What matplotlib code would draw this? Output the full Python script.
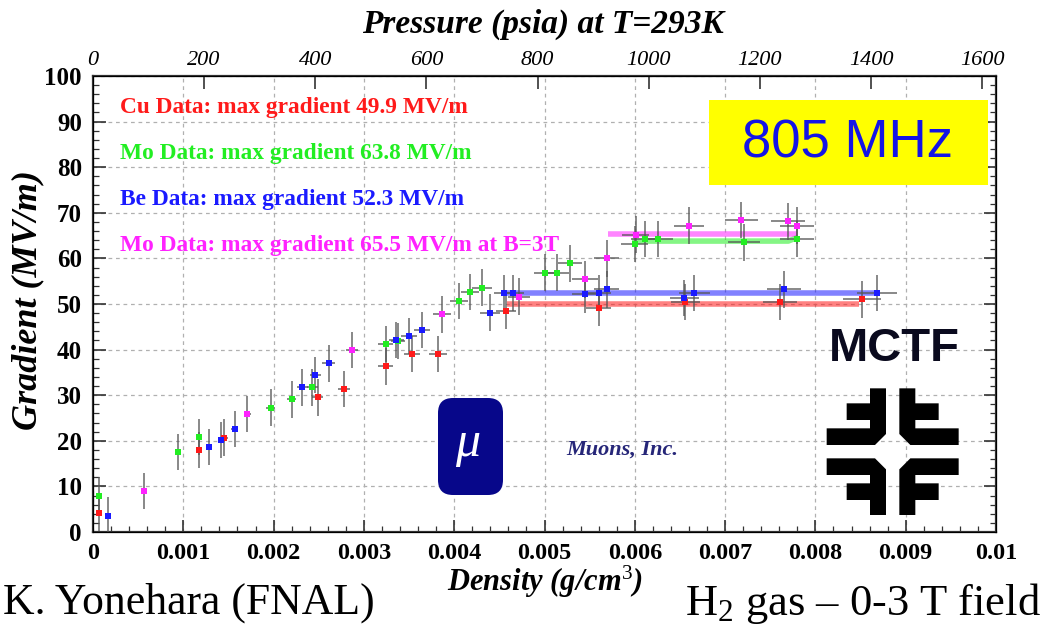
import numpy as np
import matplotlib
matplotlib.use("Agg")
import matplotlib.pyplot as plt
from matplotlib.patches import FancyBboxPatch, Polygon, Rectangle

# -----------------------------
# Data
# -----------------------------
cu_density = [0.00007, 0.00117, 0.00145, 0.00249, 0.00278, 0.00324, 0.00353, 0.00382,
              0.00457, 0.00560, 0.00656, 0.00761, 0.00852]
cu_gradient = [4.2, 18.0, 20.7, 29.5, 31.4, 36.3, 39.0, 39.0, 48.5, 49.1, 50.4, 50.4, 51.0]
cu_xerr = [0.00002, 0.00003, 0.00004, 0.00006, 0.00007, 0.00008, 0.00009, 0.0001,
           0.00011, 0.00014, 0.00016, 0.00019, 0.00021]

mo_density = [0.00007, 0.00094, 0.00117, 0.00197, 0.00220, 0.00243, 0.00324, 0.00338,
              0.00405, 0.00417, 0.00431, 0.00500, 0.00514, 0.00528, 0.00600, 0.00611,
              0.00626, 0.00721, 0.00780]
mo_gradient = [8.0, 17.5, 20.8, 27.3, 29.1, 31.7, 41.2, 41.9, 50.7, 52.6, 53.6, 56.9,
               56.9, 58.9, 63.2, 64.2, 64.2, 63.5, 64.2]
mo_xerr = [0.00002, 0.00002, 0.00003, 0.00005, 0.00005, 0.00006, 0.00008, 0.00008,
           0.0001, 0.0001, 0.00011, 0.00012, 0.00013, 0.00013, 0.00015, 0.00015,
           0.00016, 0.00018, 0.00019]

be_density = [0.000165, 0.00128, 0.00142, 0.00157, 0.00232, 0.00246, 0.00261, 0.00336,
              0.00350, 0.00364, 0.00440, 0.00455, 0.00465, 0.00545, 0.00560, 0.00569,
              0.00655, 0.00666, 0.00765, 0.00868]
be_gradient = [3.6, 18.6, 20.2, 22.6, 31.7, 34.4, 37.0, 42.1, 43.0, 44.3, 48.1, 52.4,
               52.4, 52.1, 52.4, 53.2, 51.3, 52.4, 53.2, 52.4]
be_xerr = [0.00002, 0.00003, 0.00004, 0.00004, 0.00006, 0.00006, 0.00007, 0.00008,
           0.00009, 0.00009, 0.00011, 0.00011, 0.00012, 0.00014, 0.00014, 0.00014,
           0.00016, 0.00017, 0.00019, 0.00022]

mo3t_density = [0.00056, 0.00171, 0.00287, 0.00387, 0.00472, 0.00545, 0.00569, 0.00601,
                0.00660, 0.00718, 0.00770, 0.00780]
mo3t_gradient = [9.0, 25.9, 39.9, 47.7, 51.6, 55.4, 60.0, 65.2, 67.2, 68.4, 68.1, 67.2]
mo3t_xerr = [0.00002, 0.00004, 0.00007, 0.0001, 0.00012, 0.00014, 0.00014, 0.00015,
             0.00017, 0.00018, 0.00019, 0.00019]

gradient_err = 4.0

# max gradient bands
cu_max_x, cu_max_y = [0.00458, 0.00848], [50.0, 50.0]
be_max_x, be_max_y = [0.00454, 0.00870], [52.4, 52.4]
mo_max_x, mo_max_y = [0.00597, 0.00770, 0.00780], [63.8, 63.8, 64.6]
mo3t_max_x, mo3t_max_y = [0.00570, 0.00780], [65.4, 65.4]

density_ticks = [0, 0.001, 0.002, 0.003, 0.004, 0.005, 0.006, 0.007, 0.008, 0.009, 0.01]
density_labels = ["0", "0.001", "0.002", "0.003", "0.004", "0.005", "0.006", "0.007",
                  "0.008", "0.009", "0.01"]
pressure_ticks = [0, 200, 400, 600, 800, 1000, 1200, 1400, 1600]

legend_lines = ["Cu Data: max gradient 49.9 MV/m",
                "Mo Data: max gradient 63.8 MV/m",
                "Be Data: max gradient 52.3 MV/m",
                "Mo Data: max gradient 65.5 MV/m at B=3T"]

RED, GREEN, BLUE, MAGENTA = "#ff1a1a", "#22ee22", "#1a1aff", "#ff22ff"
SERIF = "Liberation Serif"

plt.rcParams["font.family"] = SERIF
plt.rcParams["mathtext.fontset"] = "custom"
plt.rcParams["mathtext.rm"] = SERIF
plt.rcParams["mathtext.it"] = SERIF + ":italic:bold"

W, H = 1045, 629
fig = plt.figure(figsize=(W / 100, H / 100), dpi=100)

# axes frame in pixels: x 93..996, y 76..532
L, R, T, B = 93, 996, 76, 532
ax = fig.add_axes([L / W, 1 - B / H, (R - L) / W, (B - T) / H])
ax.set_xlim(0, 0.01)
ax.set_ylim(0, 100)

# -----------------------------
# Grid / ticks
# -----------------------------
ax.set_xticks(density_ticks)
ax.set_xticklabels(density_labels)
ax.set_xticks(np.arange(0, 0.0101, 0.0002), minor=True)
ax.set_yticks(range(0, 101, 10))
ax.set_yticks(range(0, 101, 2), minor=True)
ax.grid(True, which="major", color="#b0b0b0", linestyle=(0, (3, 3)), linewidth=0.9)
ax.tick_params(which="both", direction="in", right=True, top=False, color="#333333")
ax.tick_params(which="major", length=9, width=1.2)
ax.tick_params(which="minor", length=4, width=0.9)
ax.tick_params(axis="x", labelsize=17.5, pad=8)
ax.tick_params(axis="y", labelsize=18, pad=8)
for lab in ax.get_xticklabels() + ax.get_yticklabels():
    lab.set_fontweight("bold")
for sp in ax.spines.values():
    sp.set_linewidth(1.6)
    sp.set_color("#333333")

# top pressure axis
top = ax.twiny()
top.set_xlim(0, 1625)
top.set_xticks(pressure_ticks)
top.tick_params(direction="in", length=9, width=1.2, labelsize=16, pad=4, color="#333333")
for lab in top.get_xticklabels():
    lab.set_fontstyle("italic")

# -----------------------------
# Data
# -----------------------------
band_kw = dict(linewidth=4, alpha=0.55, solid_capstyle="butt", zorder=3)
ax.plot(cu_max_x, cu_max_y, color=RED, **band_kw)
ax.plot(be_max_x, be_max_y, color=BLUE, **band_kw)
ax.plot(mo_max_x, mo_max_y, color=GREEN, **band_kw)
ax.plot(mo3t_max_x, mo3t_max_y, color=MAGENTA, **band_kw)

series = [
    (cu_density, cu_gradient, cu_xerr, RED),
    (mo_density, mo_gradient, mo_xerr, GREEN),
    (be_density, be_gradient, be_xerr, BLUE),
    (mo3t_density, mo3t_gradient, mo3t_xerr, MAGENTA),
]
for dens, grad, xerr, col in series:
    ax.errorbar(dens, grad, xerr=xerr, yerr=gradient_err, fmt="none",
                ecolor="#555555", elinewidth=1.3, alpha=0.75, zorder=4)
    ax.plot(dens, grad, linestyle="none", marker="s", markersize=5,
            color=col, markeredgewidth=0, zorder=5)

# legend texts
for i, (txt, col) in enumerate(zip(legend_lines, [RED, GREEN, BLUE, MAGENTA])):
    fig.text(120 / W, 1 - (108 + i * 45.7) / H, txt, color=col, fontsize=16.8,
             fontweight="bold", va="center", ha="left")

# -----------------------------
# Labels outside axes
# -----------------------------
fig.text(543 / W, 1 - 24 / H, "Pressure (psia) at T=293K", fontsize=24,
         fontweight="bold", fontstyle="italic", ha="center", va="center")
fig.text(545 / W, 1 - 582 / H, "Density (g/cm$^{3}$)", fontsize=22,
         fontweight="bold", fontstyle="italic", ha="center", va="center")
fig.text(28 / W, 1 - 300 / H, "Gradient (MV/m)", fontsize=26, rotation=90,
         fontweight="bold", fontstyle="italic", ha="center", va="center")
fig.text(3 / W, 1 - 603 / H, "K. Yonehara (FNAL)", fontsize=31.5, ha="left", va="center")
fig.text(1041 / W, 1 - 603 / H, "H$_2$ gas \u2013 0-3 T field", fontsize=32,
         ha="right", va="center")

# -----------------------------
# Decorations (pixel overlay)
# -----------------------------
ov = fig.add_axes([0, 0, 1, 1])
ov.set_xlim(0, W)
ov.set_ylim(H, 0)
ov.axis("off")
ov.patch.set_alpha(0)

# 805 MHz box
ov.add_patch(Rectangle((709, 100), 279, 85, facecolor="#ffff00", edgecolor="none"))
ov.text(848, 143, "805 MHz", family="Liberation Sans", fontsize=38, color="#1414e6",
        ha="center", va="center")

# MCTF + Fermilab logo (four mirrored quadrants around a white diamond)
ov.text(894, 349, "MCTF", family="Liberation Sans", fontsize=34, fontweight="bold",
        color="#0a0a1e", ha="center", va="center")

quad = np.array([[180, 205], [228, 205], [228, 342], [195, 375], [50, 375], [50, 325],
                 [180, 325], [180, 300], [110, 300], [110, 250], [180, 250]], dtype=float)
for sx in (1, -1):
    for sy in (1, -1):
        q = quad.copy()
        if sx < 0:
            q[:, 0] = 496 - q[:, 0]
        if sy < 0:
            q[:, 1] = 790 - q[:, 1]
        pts = np.column_stack([810 + q[:, 0] / 3, 320 + q[:, 1] / 3])
        ov.add_patch(Polygon(pts, closed=True, facecolor="black", edgecolor="none"))

# Muons, Inc. logo
ov.add_patch(FancyBboxPatch((438, 398), 65, 97, boxstyle="round,pad=0,rounding_size=15",
                            facecolor="#07078a", edgecolor="none"))
ov.text(468, 444, "\u03bc", color="white", fontsize=36, fontstyle="italic",
        ha="center", va="center")
ov.text(622, 450, "Muons, Inc.", color="#262678", fontsize=16, fontstyle="italic",
        fontweight="bold", ha="center", va="center")

fig.savefig("out.png", dpi=100)
